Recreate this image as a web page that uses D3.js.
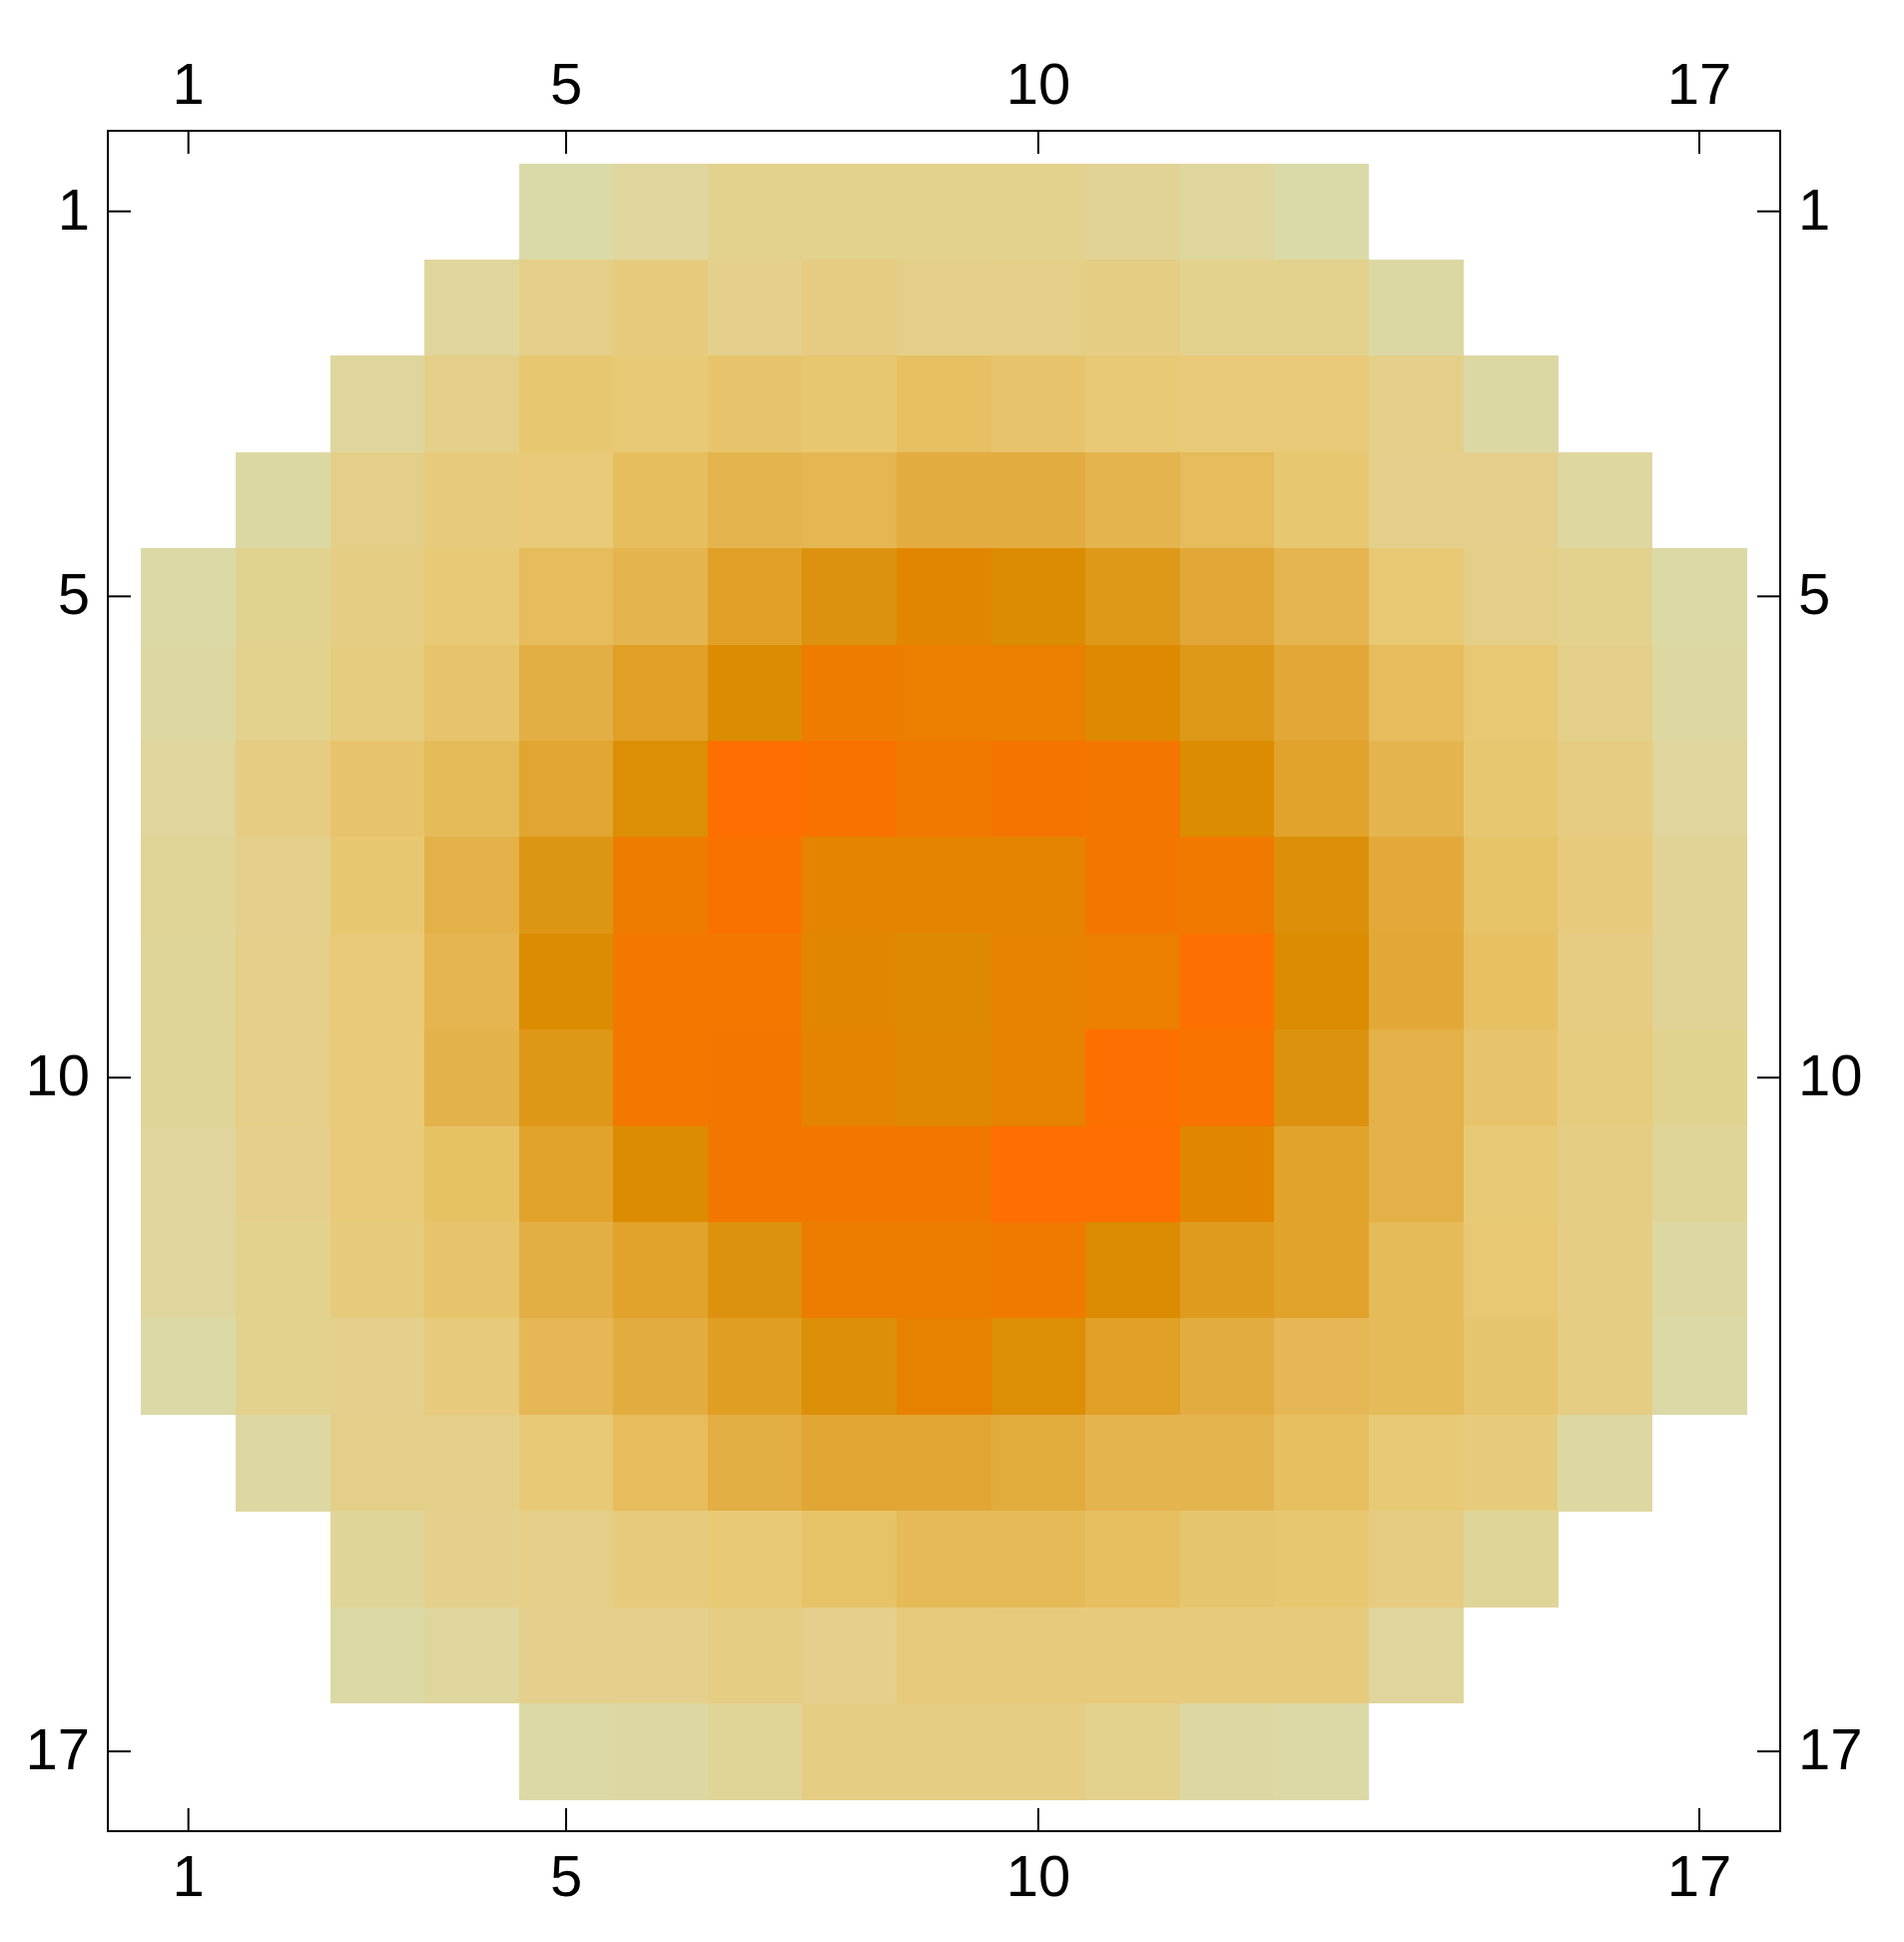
<!DOCTYPE html>
<html>
<head>
<meta charset="utf-8">
<script src="https://cdn.jsdelivr.net/npm/d3@7"></script>
<style>
  html, body { margin: 0; padding: 0; background: #fff; }
  svg { display: block; }
</style>
</head>
<body>
<svg id="chart"></svg>
<script>
const width = 1907;
const height = 1945;

// tick labels shown on every side
const ticks = [1, 5, 10, 17];

// first and last filled column for each row (rows 1..17)
const rowStart = [5, 4, 3, 2, 1, 1, 1, 1, 1, 1, 1, 1, 1, 2, 3, 3, 5];

// cell values, row by row, only the filled cells (0 = palest, 1 = brightest orange)
const values = [
  [0.00, 0.05, 0.12, 0.12, 0.12, 0.12, 0.09, 0.05, 0.00],
  [0.05, 0.14, 0.19, 0.13, 0.17, 0.14, 0.15, 0.16, 0.12, 0.12, 0.02],
  [0.05, 0.14, 0.24, 0.22, 0.26, 0.24, 0.29, 0.26, 0.22, 0.21, 0.21, 0.14, 0.02],
  [0.02, 0.14, 0.20, 0.21, 0.31, 0.38, 0.36, 0.43, 0.43, 0.38, 0.32, 0.24, 0.13, 0.13, 0.04],
  [0.01, 0.11, 0.16, 0.22, 0.32, 0.38, 0.52, 0.60, 0.72, 0.66, 0.56, 0.46, 0.37, 0.23, 0.14, 0.12, 0.01],
  [0.03, 0.12, 0.18, 0.26, 0.42, 0.52, 0.66, 0.84, 0.82, 0.80, 0.68, 0.56, 0.46, 0.32, 0.23, 0.14, 0.03],
  [0.06, 0.17, 0.26, 0.33, 0.48, 0.64, 1.00, 0.95, 0.87, 0.92, 0.90, 0.66, 0.50, 0.38, 0.24, 0.17, 0.06],
  [0.08, 0.13, 0.24, 0.40, 0.58, 0.84, 0.95, 0.74, 0.74, 0.74, 0.90, 0.87, 0.62, 0.45, 0.27, 0.20, 0.09],
  [0.07, 0.14, 0.21, 0.37, 0.66, 0.88, 0.88, 0.72, 0.68, 0.76, 0.82, 0.98, 0.66, 0.46, 0.29, 0.17, 0.09],
  [0.07, 0.15, 0.21, 0.39, 0.57, 0.88, 0.89, 0.74, 0.70, 0.76, 0.98, 0.94, 0.60, 0.40, 0.26, 0.18, 0.11],
  [0.06, 0.13, 0.21, 0.28, 0.50, 0.66, 0.89, 0.89, 0.89, 1.00, 1.00, 0.72, 0.50, 0.40, 0.22, 0.16, 0.07],
  [0.05, 0.12, 0.19, 0.26, 0.41, 0.50, 0.60, 0.83, 0.83, 0.86, 0.66, 0.55, 0.50, 0.33, 0.23, 0.16, 0.03],
  [0.01, 0.12, 0.13, 0.20, 0.35, 0.43, 0.53, 0.62, 0.77, 0.64, 0.52, 0.43, 0.35, 0.33, 0.25, 0.16, 0.01],
  [0.03, 0.15, 0.14, 0.22, 0.32, 0.42, 0.47, 0.47, 0.44, 0.38, 0.38, 0.30, 0.22, 0.19, 0.03],
  [0.07, 0.13, 0.15, 0.20, 0.22, 0.27, 0.34, 0.34, 0.30, 0.25, 0.24, 0.17, 0.07],
  [0.01, 0.05, 0.13, 0.13, 0.16, 0.13, 0.20, 0.19, 0.20, 0.19, 0.19, 0.06],
  [0.01, 0.03, 0.08, 0.16, 0.16, 0.16, 0.12, 0.03, 0.01]
];

// colour ramp: pale olive -> tan -> gold -> dark orange -> bright orange
const colorStops = [0, 0.05, 0.12, 0.16, 0.22, 0.30, 0.38, 0.45, 0.52, 0.60, 0.66, 0.74, 0.84, 0.92, 1];
const colorRange = ["#dadaa8", "#dfd69e", "#e3d18e", "#e5cd84", "#e8c976", "#e6bf60", "#e4b44e",
  "#e2a93a", "#e0a026", "#dc920e", "#dc8c00", "#e48400", "#ee7c00", "#f57400", "#ff6e00"];

const color = d3.scaleLinear()
  .domain(colorStops)
  .range(colorRange)
  .interpolate(d3.interpolateRgb);

const cells = [];
values.forEach((row, r) => {
  row.forEach((v, k) => {
    cells.push({ row: r + 1, col: rowStart[r] + k, value: v });
  });
});

const frame = { left: 108, right: 1783, top: 131, bottom: 1834 };

const x = d3.scaleLinear().domain([0.5, 17.5]).range([141.4, 1749.3]);
const y = d3.scaleLinear().domain([0.5, 17.5]).range([163.5, 1802.3]);

const svg = d3.select("#chart")
  .attr("width", width)
  .attr("height", height)
  .attr("font-family", "'Liberation Sans', Arial, sans-serif");

svg.append("g")
  .selectAll("rect")
  .data(cells)
  .join("rect")
  .attr("x", d => x(d.col - 0.5))
  .attr("y", d => y(d.row - 0.5))
  .attr("width", x(1.5) - x(0.5) + 0.5)
  .attr("height", y(1.5) - y(0.5) + 0.5)
  .attr("fill", d => color(d.value))
  .attr("shape-rendering", "crispEdges");

// frame
svg.append("rect")
  .attr("x", frame.left)
  .attr("y", frame.top)
  .attr("width", frame.right - frame.left)
  .attr("height", frame.bottom - frame.top)
  .attr("fill", "none")
  .attr("stroke", "#000")
  .attr("stroke-width", 2);

const tickLen = 23;
const tg = svg.append("g").attr("stroke", "#000").attr("stroke-width", 2);

ticks.forEach(t => {
  tg.append("line").attr("x1", x(t)).attr("x2", x(t)).attr("y1", frame.top).attr("y2", frame.top + tickLen);
  tg.append("line").attr("x1", x(t)).attr("x2", x(t)).attr("y1", frame.bottom).attr("y2", frame.bottom - tickLen);
  tg.append("line").attr("y1", y(t)).attr("y2", y(t)).attr("x1", frame.left).attr("x2", frame.left + tickLen);
  tg.append("line").attr("y1", y(t)).attr("y2", y(t)).attr("x1", frame.right).attr("x2", frame.right - tickLen);
});

const fs = 58;
const labels = svg.append("g").attr("font-size", fs).attr("fill", "#000");

labels.selectAll(".top").data(ticks).join("text")
  .attr("x", d => x(d)).attr("y", 104)
  .attr("text-anchor", "middle").text(d => d);

labels.selectAll(".bottom").data(ticks).join("text")
  .attr("x", d => x(d)).attr("y", 1899)
  .attr("text-anchor", "middle").text(d => d);

labels.selectAll(".left").data(ticks).join("text")
  .attr("x", 90).attr("y", d => y(d) + 18)
  .attr("text-anchor", "end").text(d => d);

labels.selectAll(".right").data(ticks).join("text")
  .attr("x", 1801).attr("y", d => y(d) + 18)
  .attr("text-anchor", "start").text(d => d);
</script>
</body>
</html>
